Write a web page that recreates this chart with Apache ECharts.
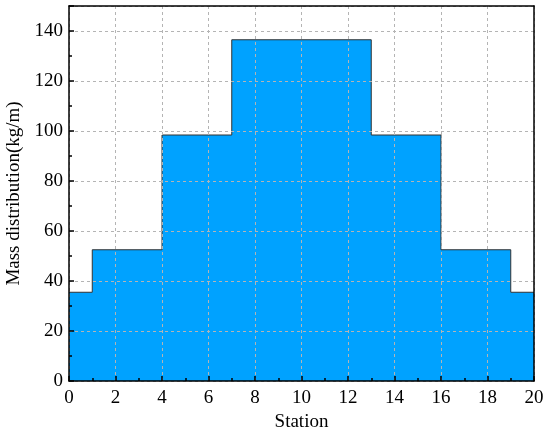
<!DOCTYPE html>
<html>
<head>
<meta charset="utf-8">
<script src="https://cdn.jsdelivr.net/npm/echarts@6/dist/echarts.min.js"></script>
<style>html,body{margin:0;padding:0;background:#fff}#c{width:550px;height:431px}</style>
</head>
<body>
<div id="c"></div>
<script>
const stations = [0, 1, 4, 7, 13, 16, 19, 20];
const mass = [35.5, 52.5, 98.4, 136.5, 98.4, 52.5, 35.5, 35.5];
const xName = 'Station';
const yName = 'Mass distribution(kg/m)';

const font = 'Liberation Serif, Times New Roman, serif';
const chart = echarts.init(document.getElementById('c'));
const gridLine = { show: true, lineStyle: { color: '#b4b4b4', type: [3, 3], width: 1 } };
chart.setOption({
  animation: false,
  grid: { left: 69, right: 16, top: 6, bottom: 50, containLabel: false, outerBoundsMode: 'none' },
  xAxis: [
    {
      type: 'value', min: 0, max: 20, interval: 2, position: 'bottom', z: 10,
      name: xName, nameLocation: 'middle', nameGap: 30,
      nameTextStyle: { fontFamily: font, fontSize: 19, color: '#000' },
      axisLine: { show: true, lineStyle: { color: '#000', width: 1.5 } },
      axisTick: { show: true, inside: true, length: 5, lineStyle: { color: '#000', width: 1.5 } },
      minorTick: { show: true, splitNumber: 2, length: 3, lineStyle: { color: '#000', width: 1.5 } },
      axisLabel: { fontFamily: font, fontSize: 19, color: '#000', margin: 8 },
      splitLine: { show: false }
    },
    {
      type: 'value', min: 0, max: 20, interval: 2, position: 'top', z: 4,
      axisLine: { show: true, onZero: false, lineStyle: { color: '#000', width: 1.5 } },
      axisTick: { show: false }, axisLabel: { show: false },
      splitLine: gridLine
    }
  ],
  yAxis: [
    {
      type: 'value', min: 0, max: 150, interval: 20, position: 'left', z: 10,
      name: yName, nameLocation: 'middle', nameGap: 43,
      nameTextStyle: { fontFamily: font, fontSize: 19, color: '#000' },
      axisLine: { show: true, lineStyle: { color: '#000', width: 1.5 } },
      axisTick: { show: true, inside: true, length: 5, lineStyle: { color: '#000', width: 1.5 } },
      minorTick: { show: true, splitNumber: 2, length: 3, lineStyle: { color: '#000', width: 1.5 } },
      axisLabel: { fontFamily: font, fontSize: 19, color: '#000', margin: 6, showMaxLabel: false },
      splitLine: { show: false }
    },
    {
      type: 'value', min: 0, max: 150, interval: 20, position: 'right', z: 4,
      axisLine: { show: true, onZero: false, lineStyle: { color: '#000', width: 1.5 } },
      axisTick: { show: false }, axisLabel: { show: false },
      splitLine: gridLine
    }
  ],
  series: [{
    type: 'line', step: 'end', xAxisIndex: 0, yAxisIndex: 0, z: 2,
    data: stations.map((s, i) => [s, mass[i]]),
    symbol: 'none',
    lineStyle: { color: '#333', width: 1 },
    areaStyle: { color: '#00A2FF', opacity: 1 }
  }]
});
</script>
</body>
</html>
